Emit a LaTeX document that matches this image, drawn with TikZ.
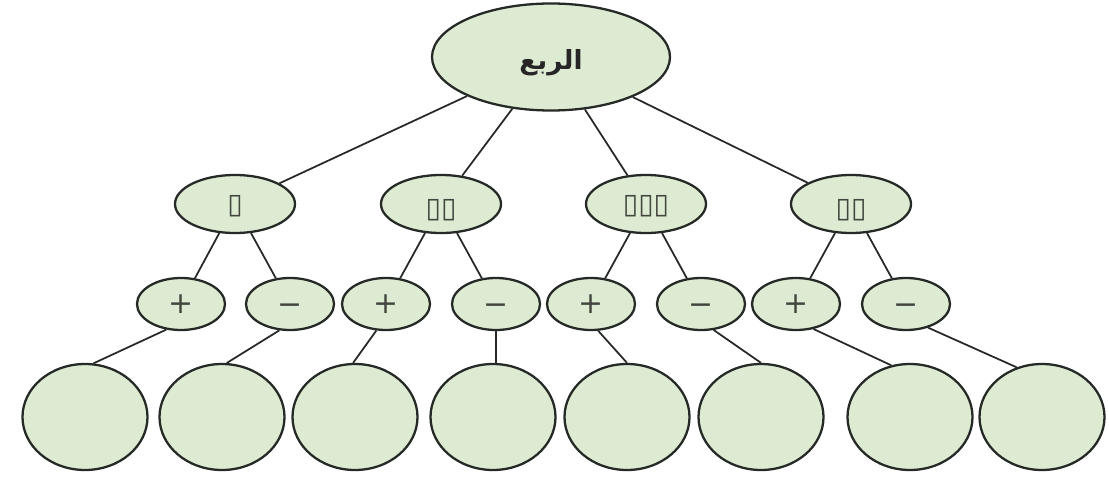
\documentclass[tikz,border=0pt]{standalone}
\usepackage{fontspec}
\usepackage{tikz}
\usetikzlibrary{shapes.geometric,positioning}
\TeXXeTstate=1
\newfontfamily\arabicfont[Script=Arabic]{DejaVu Sans}
\newfontfamily\boxfont{DejaVu Sans}
\definecolor{leafgreen}{RGB}{221,235,211}
\definecolor{rim}{RGB}{38,42,38}
\definecolor{ink}{RGB}{66,70,62}
% move the content down, keep the box size
\newcommand{\lowered}[2]{\raisebox{-#1}[\height][\depth]{#2}}

\begin{document}
\begin{tikzpicture}[
  base/.style={ellipse,draw=rim,fill=leafgreen,line width=1.3pt,
               inner sep=0pt,text=ink},
  rootnode/.style={base,minimum width=4.76cm,minimum height=2.14cm,
                   text=black!85},
  quad/.style={base,minimum width=2.4cm,minimum height=1.16cm,
               font=\boxfont\fontsize{16}{18}\selectfont},
  sign/.style={base,minimum width=1.76cm,minimum height=1.04cm,
               font=\boxfont\fontsize{17}{19}\selectfont},
  leaf/.style={base,minimum width=2.5cm,minimum height=2.12cm},
  link/.style={draw=rim,line width=1pt},
]
  \useasboundingbox (0,0) rectangle (22.18,9.52);

  \node[rootnode] (root) at (11.02,8.38)
    {\lowered{0.12cm}{\arabicfont\bfseries\fontsize{15}{17}\selectfont\beginR الربع\endR}};

  \node[quad] (q1) at (4.70,5.44) {\lowered{0.04cm}{▯}};
  \node[quad] (q2) at (8.82,5.44) {\lowered{0.13cm}{▯▯}};
  \node[quad] (q3) at (12.92,5.44) {\lowered{0.04cm}{▯▯▯}};
  \node[quad] (q4) at (17.02,5.44) {\lowered{0.13cm}{▯▯}};

  \node[sign] (s1) at (3.62,3.44) {+};
  \node[sign] (s2) at (5.80,3.44) {\lowered{0.1cm}{−}};
  \node[sign] (s3) at (7.72,3.44) {+};
  \node[sign] (s4) at (9.92,3.44) {\lowered{0.1cm}{−}};
  \node[sign] (s5) at (11.82,3.44) {+};
  \node[sign] (s6) at (14.02,3.44) {\lowered{0.1cm}{−}};
  \node[sign] (s7) at (15.92,3.44) {+};
  \node[sign] (s8) at (18.12,3.44) {\lowered{0.1cm}{−}};

  \node[leaf] (b1) at (1.70,1.18) {};
  \node[leaf] (b2) at (4.44,1.18) {};
  \node[leaf] (b3) at (7.10,1.18) {};
  \node[leaf] (b4) at (9.86,1.18) {};
  \node[leaf] (b5) at (12.54,1.18) {};
  \node[leaf] (b6) at (15.22,1.18) {};
  \node[leaf] (b7) at (18.20,1.18) {};
  \node[leaf] (b8) at (20.84,1.18) {};

  \draw[link] (root) -- (q1);
  \draw[link] (root) -- (q2);
  \draw[link] (root) -- (q3);
  \draw[link] (root) -- (q4);

  \draw[link] (q1) -- (s1);
  \draw[link] (q1) -- (s2);
  \draw[link] (q2) -- (s3);
  \draw[link] (q2) -- (s4);
  \draw[link] (q3) -- (s5);
  \draw[link] (q3) -- (s6);
  \draw[link] (q4) -- (s7);
  \draw[link] (q4) -- (s8);

  \draw[link] (s1.240) -- (b1.81);
  \draw[link] (s2.248) -- (b2.85);
  \draw[link] (s3.250) -- (b3.92);
  \draw[link] (s4.south) -- (s4.south |- b4.north);
  \draw[link] (s5.285) -- (b5.north);
  \draw[link] (s6.296) -- (b6.north);
  \draw[link] (s7.305) -- (b7.110);
  \draw[link] (s8.313) -- (b8.117);
\end{tikzpicture}
\end{document}
